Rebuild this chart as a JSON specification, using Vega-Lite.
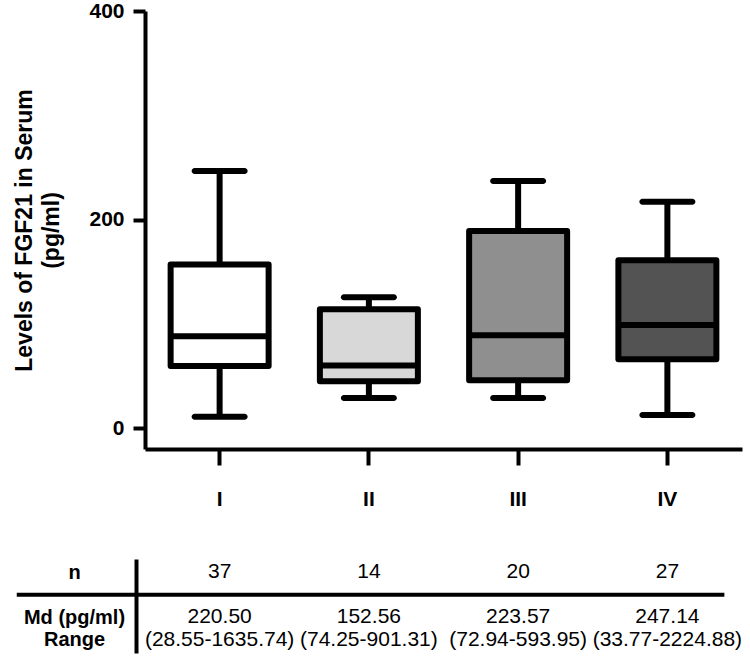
{
  "$schema": "https://vega.github.io/schema/vega-lite/v6.json",
  "background": "white",
  "padding": {"top": 0, "left": 13, "right": 5, "bottom": 5},
  "autosize": {"type": "pad"},
  "config": {
    "font": "Liberation Sans",
    "view": {"stroke": null},
    "axis": {"grid": false, "domainColor": "black", "tickColor": "black", "labelColor": "black", "titleColor": "black"}
  },
  "datasets": {
    "boxes": [
      {"group": "I", "lo": 11, "q1": 59.5, "med": 88, "q3": 157, "hi": 246.5},
      {"group": "II", "lo": 29, "q1": 45, "med": 60, "q3": 114, "hi": 125.5},
      {"group": "III", "lo": 29, "q1": 46, "med": 89, "q3": 189, "hi": 237},
      {"group": "IV", "lo": 12.5, "q1": 66, "med": 99, "q3": 161, "hi": 217}
    ],
    "table": [
      {"row": "n", "col": "I", "text": "37"},
      {"row": "n", "col": "II", "text": "14"},
      {"row": "n", "col": "III", "text": "20"},
      {"row": "n", "col": "IV", "text": "27"},
      {"row": "Md", "col": "I", "text": "220.50"},
      {"row": "Md", "col": "II", "text": "152.56"},
      {"row": "Md", "col": "III", "text": "223.57"},
      {"row": "Md", "col": "IV", "text": "247.14"},
      {"row": "Range", "col": "I", "text": "(28.55-1635.74)"},
      {"row": "Range", "col": "II", "text": "(74.25-901.31)"},
      {"row": "Range", "col": "III", "text": "(72.94-593.95)"},
      {"row": "Range", "col": "IV", "text": "(33.77-2224.88)"}
    ]
  },
  "resolve": {"scale": {"x": "independent", "y": "independent", "fill": "independent"}},
  "spacing": 50,
  "vconcat": [
    {
      "width": 597,
      "height": 438,
      "data": {"name": "boxes"},
      "encoding": {
        "x": {
          "field": "group", "type": "nominal",
          "scale": {"domain": ["I", "II", "III", "IV"], "paddingInner": 0, "paddingOuter": 0},
          "axis": {"title": null, "labelAngle": 0, "labelFontSize": 21, "labelFontWeight": "bold", "tickSize": 16, "tickWidth": 4, "domainWidth": 4, "labelPadding": 23}
        }
      },
      "layer": [
        {
          "mark": {"type": "rule", "strokeWidth": 6, "color": "black"},
          "encoding": {
            "y": {"field": "lo", "type": "quantitative",
              "scale": {"domain": [-20, 400], "nice": false, "zero": false},
              "axis": {"values": [0, 200, 400], "title": ["Levels of FGF21 in Serum", "(pg/ml)"], "titleFontSize": 23, "titleFontWeight": "bold", "titlePadding": 25, "titleLineHeight": 27, "labelFontSize": 21, "labelFontWeight": "bold", "tickSize": 12, "tickWidth": 4, "domainWidth": 4, "labelPadding": 9}},
            "y2": {"field": "q1"}
          }
        },
        {
          "mark": {"type": "rule", "strokeWidth": 6, "color": "black"},
          "encoding": {"y": {"field": "q3", "type": "quantitative"}, "y2": {"field": "hi"}}
        },
        {
          "mark": {"type": "tick", "size": 56, "thickness": 6, "color": "black", "opacity": 1, "cornerRadius": 3},
          "encoding": {"y": {"field": "lo", "type": "quantitative"}}
        },
        {
          "mark": {"type": "tick", "size": 56, "thickness": 6, "color": "black", "opacity": 1, "cornerRadius": 3},
          "encoding": {"y": {"field": "hi", "type": "quantitative"}}
        },
        {
          "mark": {"type": "bar", "size": 98, "stroke": "black", "strokeWidth": 6, "strokeJoin": "round", "opacity": 1},
          "encoding": {
            "y": {"field": "q1", "type": "quantitative"},
            "y2": {"field": "q3"},
            "fill": {"field": "group", "type": "nominal", "scale": {"domain": ["I", "II", "III", "IV"], "range": ["#ffffff", "#d8d8d8", "#8f8f8f", "#535353"]}, "legend": null}
          }
        },
        {
          "mark": {"type": "tick", "size": 98, "thickness": 6, "color": "black", "opacity": 1},
          "encoding": {"y": {"field": "med", "type": "quantitative"}}
        }
      ]
    },
    {
      "width": 597,
      "height": 94,
      "layer": [
        {
          "data": {"name": "table"},
          "mark": {"type": "text", "fontSize": 21, "color": "black"},
          "encoding": {
            "x": {"field": "col", "type": "nominal", "scale": {"type": "band", "domain": ["label", "I", "II", "III", "IV"], "range": [-149.25, 597], "paddingInner": 0, "paddingOuter": 0}, "axis": null},
            "y": {"field": "row", "type": "nominal", "scale": {"type": "point", "domain": ["n", "sep", "Md", "Range"], "padding": 0.6},
              "axis": {"title": null, "orient": "left", "offset": 9, "ticks": false, "tickSize": 0, "domainWidth": 4, "labelAlign": "center", "labelBaseline": "middle", "labelPadding": 62, "labelFontSize": 20, "labelFontWeight": "bold", "labelExpr": "datum.value == 'Md' ? 'Md (pg/ml)' : datum.value == 'sep' ? '' : datum.value"}},
            "text": {"field": "text"}
          }
        },
        {
          "data": {"values": [{}]},
          "mark": {"type": "rule", "strokeWidth": 4, "color": "black", "xOffset": 21, "x2Offset": 57},
          "encoding": {
            "x": {"datum": "label", "bandPosition": 0},
            "x2": {"datum": "IV"},
            "y": {"datum": "sep"}
          }
        }
      ]
    }
  ]
}
